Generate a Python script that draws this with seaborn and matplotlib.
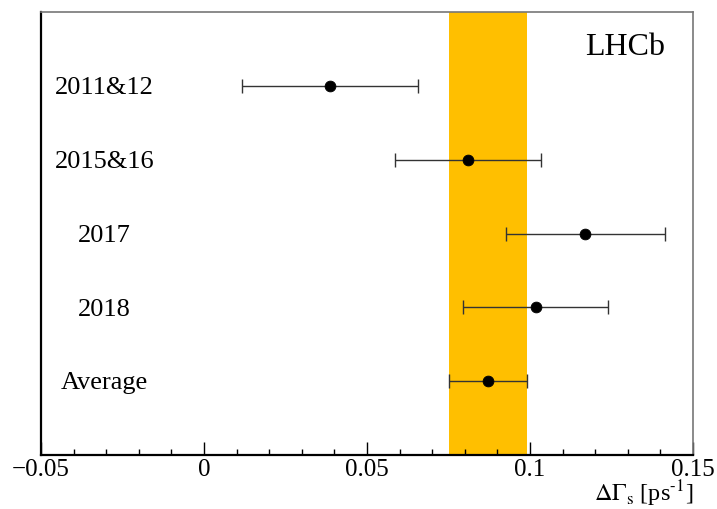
import matplotlib
matplotlib.use('Agg')
import matplotlib.pyplot as plt
import seaborn as sns
import pandas as pd
from matplotlib.ticker import MultipleLocator

# Valores
periodos = ['2011&12', '2015&16', '2017', '2018', 'Average']
delta_gamma = [0.0387, 0.0810, 0.1169, 0.1018, 0.0871]
errores = [0.0270, 0.0224, 0.0244, 0.0222, 0.0120]
banda_min = 0.0752
banda_max = 0.0992

df = pd.DataFrame({'periodo': periodos, 'valor': delta_gamma, 'error': errores})
df['pos'] = range(1, len(df) + 1)

sns.set_style('white')
plt.rcParams['font.family'] = ['Liberation Serif', 'DejaVu Serif']
plt.rcParams['mathtext.fontset'] = 'stix'
plt.rcParams['text.color'] = 'black'
plt.rcParams['axes.labelcolor'] = 'black'
plt.rcParams['xtick.color'] = 'black'

fig = plt.figure(figsize=(7.17, 5.09), dpi=100)
ax = fig.add_axes([0.0572, 0.106, 0.9093, 0.8704])

# banda del promedio
ax.axvspan(banda_min, banda_max, color='#ffbf00', lw=0, zorder=0)

ax.errorbar(df['valor'], df['pos'], xerr=df['error'], fmt='none',
            ecolor='#333333', elinewidth=1.0, capsize=5, capthick=1.0, zorder=2)
sns.scatterplot(data=df, x='valor', y='pos', color='black', s=60,
                edgecolor='black', zorder=3, ax=ax, legend=False)

for _, fila in df.iterrows():
    ax.text(-0.0305, fila['pos'] + 0.03, fila['periodo'], ha='center', va='center',
            fontsize=19)

ax.text(0.896, 0.92, 'LHCb', transform=ax.transAxes, ha='center', va='center',
        fontsize=23)

ax.set_xlim(-0.05, 0.15)
ax.set_ylim(6, 0)
ax.set_yticks([])
ax.set_ylabel('')
ax.xaxis.set_major_locator(MultipleLocator(0.05))
ax.xaxis.set_minor_locator(MultipleLocator(0.01))
ax.set_xticks([-0.05, 0, 0.05, 0.1, 0.15])
ax.set_xticklabels(['\u22120.05', '0', '0.05', '0.1', '0.15'], fontsize=18)
ax.tick_params(axis='x', which='major', direction='in', length=9.5, width=1.0,
               pad=3, bottom=True, color='black')
ax.tick_params(axis='x', which='minor', direction='in', length=4.5, width=1.0,
               bottom=True, color='black')
ax.set_xlabel(r'$\Delta\Gamma_{\rm s}$ [ps$^{\text{-1}}$]', loc='right',
              fontsize=17.5, labelpad=-2)

for lado in ['left', 'bottom']:
    ax.spines[lado].set_color('black')
    ax.spines[lado].set_linewidth(1.6)
for lado in ['top', 'right']:
    ax.spines[lado].set_color('#777777')
    ax.spines[lado].set_linewidth(1.2)

fig.savefig('out.png', dpi=100)
